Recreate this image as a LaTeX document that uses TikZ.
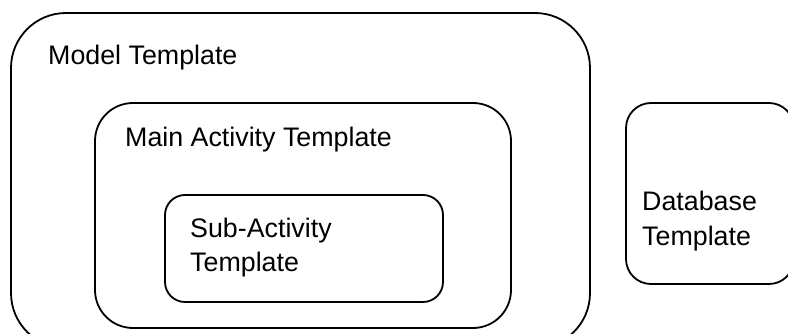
\documentclass[tikz,border=0pt]{standalone}
\usepackage{fontspec}
\setmainfont{Liberation Sans}
\usetikzlibrary{calc}

\tikzset{
  tmpl/.style={draw, line width=1.8pt},
  lbl/.style={anchor=base west, inner sep=0pt, align=left,
    font=\fontsize{26.8}{35}\selectfont}
}

\begin{document}
\begin{tikzpicture}[x=1pt,y=-1pt]

\useasboundingbox (0,0) rectangle (788,334);
\clip (0,0) rectangle (788,334);

\draw[tmpl, rounded corners=55pt] (11,13) rectangle (590,348);
\draw[tmpl, rounded corners=38pt] (95,103) rectangle (511,328);
\draw[tmpl, rounded corners=20pt] (165,195) rectangle (443,302);
\draw[tmpl, rounded corners=25pt] (626,103) rectangle (794,284);

\node[lbl] (model) at (48,65) {Model Template};

\node[lbl] (main) at (125,147) {Main Activity Template};

% base anchor sits on the last line
\node[lbl] (sub) at (190,272) {Sub-Activity\\Template};

\node[lbl] (db) at (642,245) {Database\\Template};

\end{tikzpicture}
\end{document}
